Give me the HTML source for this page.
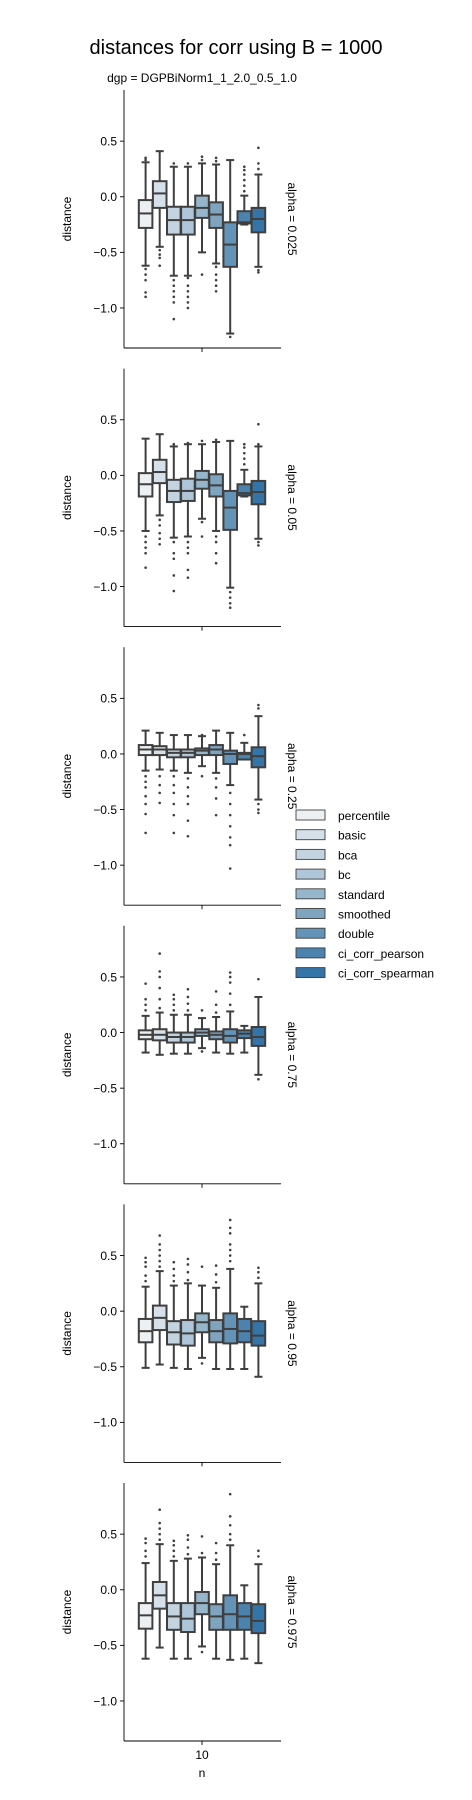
<!DOCTYPE html>
<html><head><meta charset="utf-8">
<style>
html,body{margin:0;padding:0;background:#fff;}
svg{display:block;font-family:"Liberation Sans","DejaVu Sans",sans-serif;}
</style></head>
<body>
<svg id="chart" width="472" height="1800" viewBox="0 0 472 1800" xmlns="http://www.w3.org/2000/svg">
<text x="236" y="54" font-size="20" text-anchor="middle" fill="#000">distances for corr using B = 1000</text>
<text x="202" y="82" font-size="12" text-anchor="middle" fill="#000">dgp = DGPBiNorm1_1_2.0_0.5_1.0</text>
<g id="panels"></g>
<g id="legend"></g>
</svg>
<script>
const methods = ["percentile","basic","bca","bc","standard","smoothed","double","ci_corr_pearson","ci_corr_spearman"];
const colors = ["#edf0f3","#d6e0e8","#c3d4e0","#aec6d8","#96b6cc","#7ea4c0","#6393b7","#4b82ae","#3474a6"];
const alphas = ["0.025","0.05","0.25","0.75","0.95","0.975"];
const yTicks = [0.5, 0.0, -0.5, -1.0];
const yTickLabels = ["0.5","0.0","\u22120.5","\u22121.0"];
const xCategory = "10";
// each box: [whislo, q1, median, q3, whishi]
const stats = [
 [[-0.62,-0.28,-0.15,-0.03,0.31],[-0.45,-0.10,0.03,0.14,0.41],[-0.71,-0.34,-0.21,-0.09,0.27],[-0.71,-0.34,-0.21,-0.09,0.27],[-0.50,-0.19,-0.10,0.01,0.30],[-0.60,-0.28,-0.16,-0.05,0.29],[-1.23,-0.63,-0.43,-0.23,0.33],[-0.25,-0.24,-0.23,-0.13,0.01],[-0.63,-0.32,-0.20,-0.10,0.20]],
 [[-0.50,-0.19,-0.08,0.02,0.33],[-0.36,-0.07,0.03,0.14,0.37],[-0.56,-0.24,-0.14,-0.04,0.26],[-0.55,-0.23,-0.14,-0.03,0.28],[-0.39,-0.12,-0.04,0.04,0.28],[-0.50,-0.19,-0.09,0.01,0.30],[-1.01,-0.49,-0.29,-0.14,0.31],[-0.19,-0.18,-0.16,-0.08,0.05],[-0.57,-0.26,-0.15,-0.05,0.26]],
 [[-0.15,-0.01,0.04,0.08,0.21],[-0.14,-0.01,0.04,0.07,0.19],[-0.15,-0.03,0.01,0.04,0.17],[-0.17,-0.03,0.01,0.04,0.17],[-0.11,-0.01,0.03,0.05,0.16],[-0.17,-0.01,0.04,0.08,0.21],[-0.28,-0.09,0.00,0.03,0.19],[-0.05,-0.05,0.00,0.01,0.10],[-0.41,-0.12,-0.02,0.06,0.34]],
 [[-0.18,-0.06,-0.02,0.02,0.15],[-0.20,-0.07,-0.02,0.03,0.18],[-0.19,-0.09,-0.04,0.00,0.16],[-0.19,-0.09,-0.04,0.00,0.16],[-0.14,-0.03,0.00,0.03,0.13],[-0.18,-0.06,-0.02,0.01,0.14],[-0.19,-0.09,-0.03,0.03,0.19],[-0.18,-0.05,-0.01,0.02,0.06],[-0.38,-0.12,-0.04,0.05,0.32]],
 [[-0.51,-0.28,-0.18,-0.07,0.22],[-0.48,-0.17,-0.06,0.05,0.36],[-0.51,-0.30,-0.19,-0.09,0.23],[-0.52,-0.31,-0.20,-0.08,0.25],[-0.42,-0.19,-0.10,-0.02,0.23],[-0.52,-0.28,-0.18,-0.08,0.21],[-0.52,-0.29,-0.16,-0.02,0.38],[-0.52,-0.28,-0.18,-0.07,0.04],[-0.59,-0.31,-0.22,-0.09,0.25]],
 [[-0.62,-0.35,-0.23,-0.12,0.24],[-0.52,-0.17,-0.05,0.07,0.41],[-0.62,-0.36,-0.24,-0.12,0.26],[-0.62,-0.38,-0.26,-0.12,0.28],[-0.51,-0.22,-0.12,-0.02,0.29],[-0.62,-0.36,-0.24,-0.13,0.23],[-0.63,-0.36,-0.22,-0.05,0.40],[-0.62,-0.36,-0.24,-0.12,0.04],[-0.66,-0.39,-0.28,-0.13,0.23]]
];
const fliers = [
 [[0.33,0.35,-0.65,-0.7,-0.75,-0.86,-0.9],[-0.48,-0.52,-0.55,-0.62],[0.3,-0.75,-0.8,-0.85,-0.9,-0.95,-1.1],[0.3,-0.73,-0.8,-0.85,-0.9,-0.95,-1.0],[0.33,0.36,-0.7],[0.32,0.35,-0.63,-0.7,-0.75,-0.8,-0.85],[-1.26],[0.05,0.1,0.15,0.2,0.24,0.27],[0.25,0.3,0.44,-0.66,-0.68]],
 [[-0.55,-0.6,-0.65,-0.7,-0.83],[-0.4,-0.45,-0.52,-0.57,-0.62],[0.28,-0.6,-0.7,-0.75,-0.9,-1.04],[0.29,-0.6,-0.65,-0.7,-0.85,-0.92],[0.31,-0.42,-0.55],[0.32,-0.55,-0.6,-0.7,-0.79],[-1.05,-1.1,-1.15,-1.19],[0.1,0.15,0.2,0.25,0.28],[0.28,0.46,-0.6,-0.63]],
 [[-0.2,-0.25,-0.3,-0.38,-0.45,-0.54,-0.71],[-0.2,-0.28,-0.35,-0.44],[-0.2,-0.28,-0.35,-0.45,-0.55,-0.71],[-0.22,-0.3,-0.38,-0.45,-0.6,-0.74],[0.17,-0.2],[-0.22,-0.3,-0.4,-0.55],[-0.35,-0.45,-0.55,-0.65,-0.75,-0.82,-1.03],[0.17],[0.41,0.44,-0.45,-0.5,-0.53]],
 [[0.2,0.25,0.3,0.44],[0.22,0.3,0.4,0.5,0.55,0.71],[0.2,0.25,0.3,0.34],[0.2,0.26,0.32,0.39],[0.20,-0.17],[0.18,0.25,0.37],[0.25,0.35,0.45,0.5,0.54],[],[0.48,-0.42]],
 [[0.27,0.32,0.4,0.44,0.48],[0.4,0.45,0.5,0.55,0.6,0.68],[0.27,0.32,0.38,0.44],[0.28,0.35,0.42,0.47],[0.40,-0.47],[0.26,0.33,0.41],[0.45,0.5,0.55,0.6,0.7,0.75,0.82],[],[0.3,0.35,0.39]],
 [[0.3,0.35,0.42,0.46],[0.45,0.5,0.55,0.6,0.72],[0.3,0.35,0.4,0.44],[0.32,0.38,0.45,0.49],[0.33,0.48,-0.56],[0.27,0.33,0.42],[0.45,0.5,0.58,0.66,0.86],[],[0.3,0.35]]
];

const NS = "http://www.w3.org/2000/svg";
const axLeft = 124, axRight = 281, panelStep = 278.6, axTop0 = 90, axBot0 = 348;
const yMax = 0.96, yMin = -1.36;
const centerX = 202, slot = 14.1, boxW = 13.6;
const lineC = "#3f3f3f";
function mk(tag, attrs, parent){const e=document.createElementNS(NS,tag);for(const k in attrs)e.setAttribute(k,attrs[k]);parent.appendChild(e);return e;}
function yScale(i, v){const t=axTop0+i*panelStep,b=axBot0+i*panelStep;return t+(yMax-v)/(yMax-yMin)*(b-t);}
function xScale(j){return centerX+(j-(methods.length-1)/2)*slot;}

const panels = document.getElementById("panels");
alphas.forEach((a,i)=>{
  const g = mk("g",{},panels);
  
  
  const top=axTop0+i*panelStep, bot=axBot0+i*panelStep;
  // ticks
  yTicks.forEach((v,k)=>{
    const y=yScale(i,v);
    const tl=mk("line",{x1:axLeft-4,x2:axLeft,y1:y,y2:y,stroke:"#000","stroke-width":0.9},g);
    
    
    const tx=mk("text",{x:axLeft-7,y:y+4.3,"font-size":12,"text-anchor":"end",fill:"#000"},g);
    
    
    tx.textContent=yTickLabels[k];
  });
  const yl=mk("text",{x:0,y:0,"font-size":12,"text-anchor":"middle",fill:"#000",transform:`translate(71,${(top+bot)/2}) rotate(-90)`},g);
  
  
  yl.textContent="distance";
  const rl=mk("text",{x:0,y:0,"font-size":12,"text-anchor":"middle",fill:"#000",transform:`translate(288,${(top+bot)/2}) rotate(90)`},g);
  
  
  rl.textContent="alpha = "+a;
  // boxes
  methods.forEach((m,j)=>{
    const s=stats[i][j], x=xScale(j);
    const bg=mk("g",{},g);
    
    
    mk("line",{x1:x,x2:x,y1:yScale(i,s[4]),y2:yScale(i,s[3]),stroke:lineC,"stroke-width":2},bg);
    mk("line",{x1:x,x2:x,y1:yScale(i,s[1]),y2:yScale(i,s[0]),stroke:lineC,"stroke-width":2},bg);
    mk("line",{x1:x-4,x2:x+4,y1:yScale(i,s[4]),y2:yScale(i,s[4]),stroke:lineC,"stroke-width":2},bg);
    mk("line",{x1:x-4,x2:x+4,y1:yScale(i,s[0]),y2:yScale(i,s[0]),stroke:lineC,"stroke-width":2},bg);
    const yq3=yScale(i,s[3]), yq1=yScale(i,s[1]);
    mk("rect",{x:x-boxW/2,y:yq3,width:boxW,height:Math.max(yq1-yq3,0.5),fill:colors[j],stroke:lineC,"stroke-width":2},bg);
    const ym=yScale(i,s[2]);
    mk("line",{x1:x-boxW/2,x2:x+boxW/2,y1:ym,y2:ym,stroke:lineC,"stroke-width":2},bg);
    fliers[i][j].forEach(v=>{
      const c=mk("circle",{cx:x,cy:yScale(i,v),r:1.3,fill:lineC},bg);
      
      
    });
  });
  // spines
  const ls=mk("line",{x1:axLeft,x2:axLeft,y1:top,y2:bot,stroke:"#000","stroke-width":0.9},g);
  
  
  const bs=mk("line",{x1:axLeft,x2:axRight,y1:bot,y2:bot,stroke:"#000","stroke-width":0.9},g);
  
  
  const xt=mk("line",{x1:centerX,x2:centerX,y1:bot,y2:bot+4,stroke:"#000","stroke-width":0.9},g);
  
  
  if(i===alphas.length-1){
    const xl=mk("text",{x:centerX,y:bot+18,"font-size":12,"text-anchor":"middle",fill:"#000"},g);
    
    
    xl.textContent=xCategory;
    const xa=mk("text",{x:centerX,y:bot+36,"font-size":12,"text-anchor":"middle",fill:"#000"},g);
    
    
    xa.textContent="n";
  }
});
const legend=document.getElementById("legend");
methods.forEach((m,j)=>{
  const y=810+j*19.7;
  const eg=mk("g",{},legend);
  
  
  mk("rect",{x:296,y:y,width:29,height:10,fill:colors[j],stroke:lineC,"stroke-width":0.9},eg);
  const t=mk("text",{x:338,y:y+10,"font-size":12,fill:"#000"},eg);
  t.textContent=m;
});
</script>
</body></html>
